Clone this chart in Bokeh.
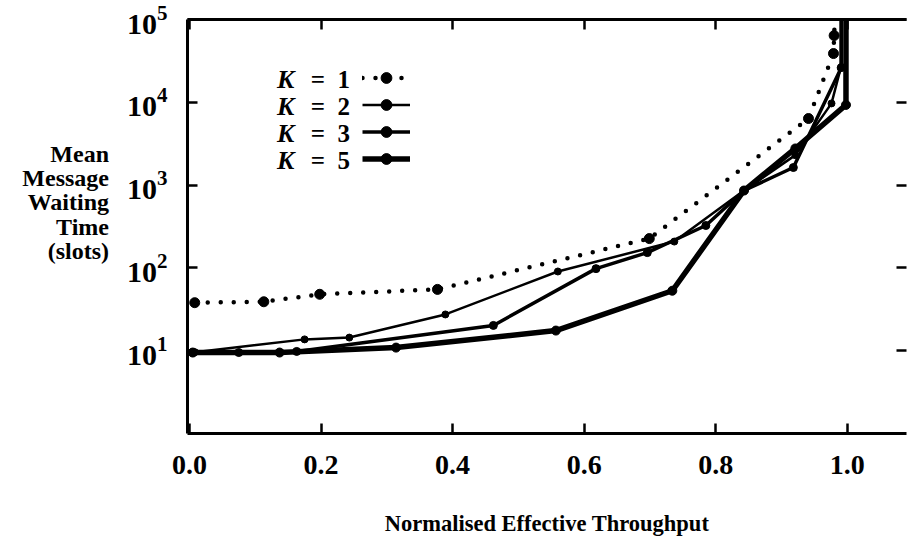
import numpy as np
from bokeh.plotting import figure
from bokeh.models import (Range1d, FixedTicker, LinearAxis, LogAxis,
                          LogTickFormatter, CustomLabelingPolicy,
                          Legend, LegendItem, Label)
from bokeh.embed import file_html
from bokeh.resources import INLINE

# Mean message waiting time (slots) against normalised effective throughput,
# one series per value of K.  A waiting time of 1e5 marks the curve leaving the top.
k1_throughput = [0.008, 0.113, 0.198, 0.377, 0.699, 0.941, 0.979, 0.980, 0.981]
k1_wait = [38, 39, 48, 55, 226, 6370, 38800, 64000, 100000]

k2_throughput = [0.008, 0.175, 0.243, 0.389, 0.560, 0.737, 0.843, 0.921, 0.976, 0.990, 0.990]
k2_wait = [9.6, 13.7, 14.4, 27.4, 90.5, 208, 860, 2300, 9700, 26000, 100000]

k3_throughput = [0.005, 0.075, 0.163, 0.462, 0.618, 0.696, 0.785, 0.843, 0.918, 0.991, 0.991]
k3_wait = [9.5, 9.5, 9.8, 20.2, 98, 153, 325, 860, 1630, 26300, 100000]

k5_throughput = [0.005, 0.137, 0.314, 0.557, 0.734, 0.843, 0.921, 0.998, 0.998]
k5_wait = [9.5, 9.5, 10.9, 17.5, 53, 860, 2770, 9300, 100000]

series_k = ["1", "2", "3", "5"]

x_ticks = [0.0, 0.2, 0.4, 0.6, 0.8, 1.0]
x_tick_labels = ["0.0", "0.2", "0.4", "0.6", "0.8", "1.0"]
y_ticks = [10, 100, 1000, 10000, 100000]

y_title = "Mean\nMessage\nWaiting\nTime\n(slots)"
x_title = "Normalised Effective Throughput"

SERIF = "Liberation Serif"

# frame geometry on the page (pixels) and the ranges it shows
FRAME_LEFT, FRAME_RIGHT, FRAME_TOP, FRAME_BOTTOM = 187, 910, 19, 433
X_MIN, X_MAX = -0.003, 1.09
Y_MIN, Y_MAX = 1.0, 1e5


def page_to_data(px, py):
    """Place an annotation at a page pixel position, expressed in data units."""
    fx = (px - FRAME_LEFT) / (FRAME_RIGHT - FRAME_LEFT)
    fy = (FRAME_BOTTOM - py) / (FRAME_BOTTOM - FRAME_TOP)
    x = X_MIN + fx * (X_MAX - X_MIN)
    y = 10 ** (np.log10(Y_MIN) + fy * (np.log10(Y_MAX) - np.log10(Y_MIN)))
    return float(x), float(y)


p = figure(width=910, height=542, output_backend="svg", toolbar_location=None,
           x_range=Range1d(X_MIN, X_MAX), y_range=Range1d(Y_MIN, Y_MAX),
           y_axis_type="log", x_axis_location=None, y_axis_location=None,
           min_border_left=FRAME_LEFT, min_border_right=910 - FRAME_RIGHT,
           min_border_top=FRAME_TOP, min_border_bottom=542 - FRAME_BOTTOM)
p.outline_line_color = None
p.xgrid.visible = False
p.ygrid.visible = False
p.background_fill_color = "white"
p.border_fill_color = "white"


def style_axis(ax, show_labels):
    ax.axis_line_width = 3
    ax.axis_line_color = "black"
    ax.major_tick_in = 10
    ax.major_tick_out = 0
    ax.major_tick_line_width = 2.5
    ax.major_tick_line_color = "black"
    ax.minor_tick_line_color = None
    ax.major_label_text_font = SERIF
    ax.major_label_text_font_style = "bold"
    ax.major_label_text_color = "black"
    ax.axis_label_text_font = SERIF
    ax.axis_label_text_font_style = "bold"
    ax.axis_label_text_color = "black"
    if not show_labels:
        # mirrored axes carry ticks only
        ax.major_label_policy = CustomLabelingPolicy(code="return []")
        ax.major_label_text_font_size = "1px"
        ax.major_label_standoff = 0


bottom = LinearAxis(ticker=FixedTicker(ticks=x_ticks),
                    major_label_overrides=dict(zip(x_ticks, x_tick_labels)),
                    axis_label=x_title)
style_axis(bottom, True)
bottom.major_label_text_font_size = "28px"
bottom.major_label_standoff = 22
bottom.axis_label_text_font_size = "22.5px"
bottom.axis_label_standoff = 34
p.add_layout(bottom, "below")

top = LinearAxis(ticker=FixedTicker(ticks=x_ticks))
style_axis(top, False)
p.add_layout(top, "above")

left = LogAxis(ticker=FixedTicker(ticks=y_ticks), formatter=LogTickFormatter(),
               axis_label=y_title + "\n\n")  # two empty lines lift the block
style_axis(left, True)
left.major_label_text_font_size = "30px"
left.major_label_standoff = 20
left.axis_label_orientation = "horizontal"
left.axis_label_text_font_size = "24px"
left.axis_label_text_align = "center"
left.axis_label_text_line_height = 0.93
left.axis_label_standoff = 15
p.add_layout(left, "left")

right = LogAxis(ticker=FixedTicker(ticks=y_ticks))
style_axis(right, False)
right.axis_line_color = None
p.add_layout(right, "right")


def plot_series(xs, ys, line_width, marker_size, dash="solid", cap="butt"):
    xs = np.asarray(xs, dtype=float)
    ys = np.asarray(ys, dtype=float)
    line = p.line(xs, ys, line_width=line_width, line_color="black",
                  line_dash=dash, line_cap=cap, line_join="round")
    on_scale = ys < 1e5
    pts = p.scatter(xs[on_scale], ys[on_scale], size=marker_size,
                    marker="circle", fill_color="black", line_color="black")
    return line, pts


r1 = plot_series(k1_throughput, k1_wait, 4.5, 10, dash="0 13", cap="round")
r2 = plot_series(k2_throughput, k2_wait, 2.5, 7)
r3 = plot_series(k3_throughput, k3_wait, 3.5, 8)
r5 = plot_series(k5_throughput, k5_wait, 5.5, 9)

# Legend: line samples from Bokeh's legend, the K labels set to their left
legend = Legend(
    items=[LegendItem(label=" ", renderers=list(r)) for r in (r1, r2, r3, r5)],
    location=(362 - FRAME_LEFT, FRAME_BOTTOM - 172), glyph_width=48,
    glyph_height=27, label_height=27, label_width=0, label_standoff=0,
    spacing=0, padding=0, margin=0, border_line_color=None,
    background_fill_alpha=0, label_text_font_size="12px")
p.add_layout(legend, "center")

for i, k in enumerate(series_k):
    row_y = 79 + 27 * i
    kx, ky = page_to_data(277, row_y)
    p.add_layout(Label(x=kx, y=ky, text="K", text_align="left",
                       text_baseline="middle", text_font=SERIF,
                       text_font_style="bold italic", text_font_size="26px",
                       text_color="black"))
    ex, ey = page_to_data(311, row_y)
    p.add_layout(Label(x=ex, y=ey, text="=\u2002" + k, text_align="left",
                       text_baseline="middle", text_font=SERIF,
                       text_font_style="bold", text_font_size="25px",
                       text_color="black"))

open("out.html", "w").write(file_html(p, INLINE))
